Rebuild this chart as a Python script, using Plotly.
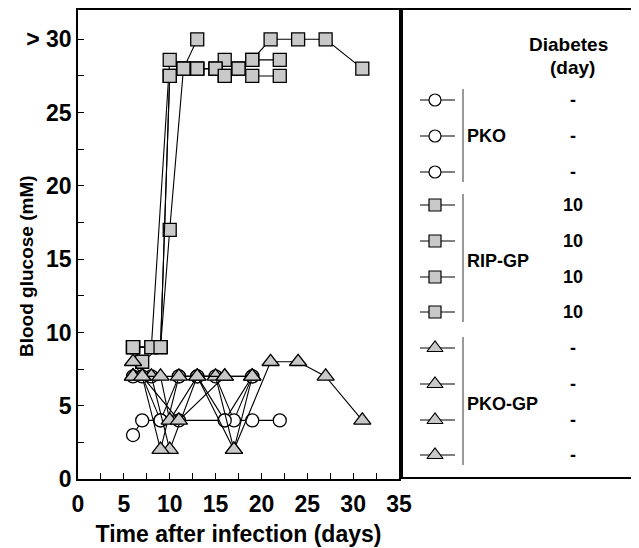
import plotly.graph_objects as go

# ---------------- data ----------------
# PKO mice (open circles)
pko_a_day = [6, 7, 9, 11, 16, 19, 22]
pko_a_glc = [3, 4, 4, 4, 4, 4, 4]
pko_b_day = [6, 8, 11, 13, 15, 17, 19]
pko_b_glc = [7, 7, 7, 7, 7, 4, 7]
pko_c_day = [7, 9, 11, 13, 16, 19]
pko_c_glc = [7, 4, 7, 7, 4, 7]

# RIP-GP mice (grey squares)
rip_a_day = [6, 8, 10, 11.5, 13, 15, 16, 17.5, 19, 22]
rip_a_glc = [9, 9, 28.6, 28, 28, 28, 28.6, 28, 28.6, 28.6]
rip_b_day = [6, 7, 9, 10, 11.5, 13]
rip_b_glc = [9, 8, 9, 27.5, 28, 30]
rip_c_day = [6, 9, 10, 11.5, 13, 15, 16, 17.5, 19, 21, 24, 27, 31]
rip_c_glc = [9, 9, 17, 28, 28, 28, 27.5, 28, 28.6, 30, 30, 30, 28]
rip_d_day = [6, 8, 9, 10, 11.5, 13, 15, 16, 17.5, 19, 22]
rip_d_glc = [9, 9, 9, 27.5, 28, 28, 28, 27.5, 28, 27.5, 27.5]

# PKO-GP mice (grey triangles)
pkogp_a_day = [6, 8, 10, 13, 15, 17, 21, 24, 27, 31]
pkogp_a_glc = [7, 7, 2, 7, 7, 2, 8, 8, 7, 4]
pkogp_b_day = [6, 7, 9, 11, 16, 19]
pkogp_b_glc = [8, 7, 2, 7, 7, 7]
pkogp_c_day = [6, 9, 10, 13, 17, 19]
pkogp_c_glc = [7, 7, 4, 7, 2, 7]
pkogp_d_day = [6, 7, 11, 16, 19]
pkogp_d_glc = [7, 7, 4, 7, 7]

x_ticks = [0, 5, 10, 15, 20, 25, 30, 35]
y_ticks = [0, 5, 10, 15, 20, 25, 30]
y_tick_labels = ["0", "5", "10", "15", "20", "25", "> 30"]

group_names = ["PKO", "RIP-GP", "PKO-GP"]
group_sizes = [3, 4, 4]
onset_labels = ["-", "-", "-", "10", "10", "10", "10", "-", "-", "-", "-"]

# ---------------- styles ----------------
GREY = "#c9c9c9"
FONT = "Liberation Sans, Arial, Helvetica, sans-serif"
styles = {
    "PKO": dict(symbol="circle", size=13, color="white"),
    "RIP-GP": dict(symbol="square", size=13, color=GREY),
    "PKO-GP": dict(symbol="triangle-up", size=15, color=GREY),
}

fig = go.Figure()

series = [
    ("PKO", pko_a_day, pko_a_glc), ("PKO", pko_b_day, pko_b_glc), ("PKO", pko_c_day, pko_c_glc),
    ("RIP-GP", rip_a_day, rip_a_glc), ("RIP-GP", rip_b_day, rip_b_glc),
    ("RIP-GP", rip_c_day, rip_c_glc), ("RIP-GP", rip_d_day, rip_d_glc),
    ("PKO-GP", pkogp_a_day, pkogp_a_glc), ("PKO-GP", pkogp_b_day, pkogp_b_glc),
    ("PKO-GP", pkogp_c_day, pkogp_c_glc), ("PKO-GP", pkogp_d_day, pkogp_d_glc),
]
for grp, d, g in series:
    st = styles[grp]
    fig.add_trace(go.Scatter(
        x=d, y=g, mode="lines+markers", showlegend=False,
        line=dict(color="black", width=1.1),
        marker=dict(symbol=st["symbol"], size=st["size"], color=st["color"],
                    line=dict(color="black", width=1.3)),
        xaxis="x", yaxis="y",
    ))

# ---------------- legend panel (screen-pixel-like coordinates on axis 2) ----------------
row_y = [100, 136, 172, 205, 241, 277, 312, 348, 384, 420, 455]
mk_x, line_x0, line_x1, bar_x, num_x = 435, 420, 455, 463, 573
row = 0
for gi, (grp, n) in enumerate(zip(group_names, group_sizes)):
    st = styles[grp]
    ys = row_y[row:row + n]
    for y in ys:
        fig.add_trace(go.Scatter(x=[line_x0, line_x1], y=[y, y], mode="lines",
                                 line=dict(color="black", width=1), showlegend=False,
                                 xaxis="x2", yaxis="y2", hoverinfo="skip"))
        fig.add_trace(go.Scatter(x=[mk_x], y=[y], mode="markers", showlegend=False,
                                 marker=dict(symbol=st["symbol"], size=st["size"] - 1,
                                             color=st["color"], line=dict(color="black", width=1.2)),
                                 xaxis="x2", yaxis="y2", hoverinfo="skip"))
    fig.add_trace(go.Scatter(x=[bar_x, bar_x], y=[ys[0] - 11, ys[-1] + 10], mode="lines",
                             line=dict(color="#333333", width=1), showlegend=False,
                             xaxis="x2", yaxis="y2", hoverinfo="skip"))
    fig.add_annotation(x=bar_x + 2, y=sum(ys) / len(ys) + (2 if n == 4 else 0), xref="x2", yref="y2",
                       text=f"<b>{grp}</b>", showarrow=False, xanchor="left",
                       font=dict(family=FONT, size=18, color="black"))
    row += n

for y, lab in zip(row_y, onset_labels):
    fig.add_annotation(x=num_x, y=y, xref="x2", yref="y2", text=f"<b>{lab}</b>",
                       showarrow=False, font=dict(family=FONT, size=18, color="black"))

fig.add_annotation(x=568, y=44, xref="x2", yref="y2", text="<b>Diabetes</b>",
                   showarrow=False, font=dict(family=FONT, size=19, color="black"))
fig.add_annotation(x=572, y=67, xref="x2", yref="y2", text="<b>(day)</b>",
                   showarrow=False, font=dict(family=FONT, size=19, color="black"))

# ---------------- layout ----------------
OFF = 8                      # default page body margin
W, H = 639 - OFF, 548 - OFF
L, T = 78 - OFF, 10 - OFF
B = H - (479 - OFF)
R = W - (638 - OFF)
pw = W - L - R
ph = H - T - B

# y-axis title as a rotated annotation (placed slightly below centre, as in the original)
fig.add_annotation(x=(26 - 78) / pw, y=(479 - 266) / ph, xref="paper", yref="paper",
                   xanchor="center", yanchor="middle",
                   text="<b>Blood glucose (mM)</b>", textangle=-90, showarrow=False,
                   font=dict(family=FONT, size=19, color="black"))

fig.update_layout(
    width=W, height=H,
    margin=dict(l=L, r=R, t=T, b=B),
    plot_bgcolor="white", paper_bgcolor="white",
    font=dict(family=FONT, color="black"),
    xaxis=dict(
        domain=[0, (399 - 78) / pw], range=[0, 35], automargin=False,
        tickvals=x_ticks, ticktext=[f"<b>{v}</b>" for v in x_ticks],
        ticks="inside", ticklen=6, tickwidth=1, tickcolor="black",
        minor=dict(dtick=2.5, tick0=0, ticks="inside", ticklen=6, tickcolor="black"),
        showline=True, linecolor="black", linewidth=1.5, mirror=True,
        showgrid=False, zeroline=False, ticklabelstandoff=4,
        tickfont=dict(family=FONT, size=23, color="black"),
        title=dict(text="<b>Time after infection (days)</b>",
                   font=dict(family=FONT, size=23, color="black"), standoff=10),
    ),
    yaxis=dict(
        domain=[0, 1], range=[0, 32], automargin=False,
        tickvals=y_ticks, ticktext=[f"<b>{t}</b>" for t in y_tick_labels],
        ticks="inside", ticklen=6, tickwidth=1, tickcolor="black",
        minor=dict(dtick=2.5, tick0=0, ticks="inside", ticklen=6, tickcolor="black"),
        showline=True, linecolor="black", linewidth=1.5, mirror=True,
        showgrid=False, zeroline=False,
        tickfont=dict(family=FONT, size=23, color="black"),
    ),
    xaxis2=dict(
        domain=[(403 - 78) / pw, 1], range=[403, 638], anchor="y2", automargin=False,
        showline=True, linecolor="black", linewidth=1.5, mirror=True,
        showgrid=False, zeroline=False, showticklabels=False, ticks="",
    ),
    yaxis2=dict(
        domain=[(479 - 477) / ph, 1], range=[477, 10], anchor="x2", automargin=False,
        showline=True, linecolor="black", linewidth=1.5, mirror=True,
        showgrid=False, zeroline=False, showticklabels=False, ticks="",
    ),
)

fig.write_html("out.html")
